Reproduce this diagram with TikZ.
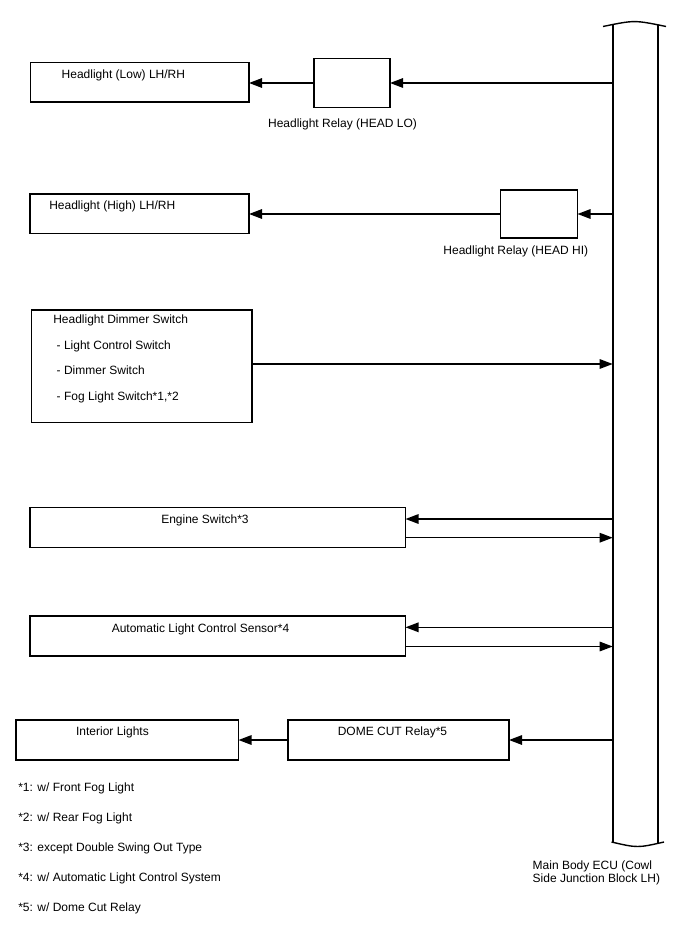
\documentclass[tikz,border=0pt]{standalone}
\usepackage{fontspec}
\setmainfont{Liberation Sans}
\usetikzlibrary{arrows.meta,calc}
\begin{document}
\begin{tikzpicture}[x=1pt,y=-1pt,
  box/.style={draw,line width=1.8pt,inner sep=0pt,outer sep=0pt},
  conn/.style={line width=1.4pt},
  tip/.style={-{Triangle[length=13pt,width=9.5pt]}},
  txt/.style={inner sep=0pt,outer sep=0pt,text height=8.6pt,text depth=0pt,font=\fontsize{12}{13.3}\selectfont},
  eculine/.style={line width=1.7pt}]
\useasboundingbox (0,0) rectangle (688,949);
\fill[white] (0,0) rectangle (688,949);

% Main Body ECU
\node[inner sep=0pt,outer sep=0pt,minimum width=45.6pt,minimum height=818pt] (ecu) at (635.5,434) {};
\draw[eculine] (ecu.north west) -- (ecu.south west);
\draw[eculine] (ecu.north east) -- (ecu.south east);
\draw[line width=1.4pt] (603,26.5) .. controls (634.5,20) .. (666,26.5);
\draw[line width=1.4pt] (611.5,842) .. controls (637.5,848) .. (664,842);

% boxes
\node[box,minimum width=218.5pt,minimum height=39.5pt] (low) at (139.75,82.25) {};
\node[box,minimum width=76pt,minimum height=49pt] (relayLO) at (352,83) {};
\node[box,minimum width=219pt,minimum height=39.5pt] (high) at (139.5,213.75) {};
\node[box,minimum width=77pt,minimum height=48pt] (relayHI) at (539,214) {};
\node[box,minimum width=220.5pt,minimum height=112.5pt] (dimmer) at (141.75,366.25) {};
\node[box,minimum width=375.5pt,minimum height=40pt] (engine) at (217.75,527.5) {};
\node[box,minimum width=375.5pt,minimum height=40pt] (auto) at (217.75,636) {};
\node[box,minimum width=222.5pt,minimum height=40pt] (interior) at (127.25,740) {};
\node[box,minimum width=221pt,minimum height=40pt] (dome) at (398.5,740) {};

% texts
\node[txt,anchor=west] (tlow) at (61.7,74.5) {Headlight (Low) LH/RH};
\node[txt] (lblLO) at (342.5,122.8) {Headlight Relay (HEAD LO)};
\node[txt,anchor=west] (thigh) at (49.3,205.5) {Headlight (High) LH/RH};
\node[txt] (lblHI) at (515.8,250) {Headlight Relay (HEAD HI)};
\node[txt,anchor=west] (td0) at (53.3,318.8) {Headlight Dimmer Switch};
\node[txt,anchor=west] (td1) at (56.7,345.5) {- Light Control Switch};
\node[txt,anchor=west] (td2) at (56.7,370.5) {- Dimmer Switch};
\node[txt,anchor=west] (td3) at (56.7,396.3) {- Fog Light Switch*1,*2};
\node[txt] (tengine) at (205,519) {Engine Switch*3};
\node[txt] (tauto) at (200.5,628.5) {Automatic Light Control Sensor*4};
\node[txt] (tinterior) at (112.5,731) {Interior Lights};
\node[txt] (tdome) at (392.5,731) {DOME CUT Relay*5};

\node[txt,anchor=west] (n1) at (18.3,786.7) {*1: w/ Front Fog Light};
\node[txt,anchor=west] (n2) at (18.3,816.7) {*2: w/ Rear Fog Light};
\node[txt,anchor=west] (n3) at (18.3,846.7) {*3: except Double Swing Out Type};
\node[txt,anchor=west] (n4) at (18.3,876.7) {*4: w/ Automatic Light Control System};
\node[txt,anchor=west] (n5) at (18.3,906.7) {*5: w/ Dome Cut Relay};

\node[txt,anchor=west] (ecuL1) at (532.7,865) {Main Body ECU (Cowl};
\node[txt,anchor=west] (ecuL2) at (532.7,878.3) {Side Junction Block LH)};

% connector end points on box sides
\coordinate (dOut) at ([yshift=2.25pt]dimmer.east);
\coordinate (eIn) at ([yshift=8.5pt]engine.east);
\coordinate (eOut) at ([yshift=-10.2pt]engine.east);
\coordinate (aIn) at ([yshift=8.7pt]auto.east);
\coordinate (aOut) at ([yshift=-10.5pt]auto.east);

% connectors
\draw[conn,tip] (ecu.west |- relayLO.east) -- (relayLO.east);
\draw[conn,tip] (relayLO.west) -- (relayLO.west -| low.east);
\draw[conn,tip] (ecu.west |- relayHI.east) -- (relayHI.east);
\draw[conn,tip] (relayHI.west) -- (relayHI.west -| high.east);
\draw[conn,tip] (dOut) -- (ecu.west |- dOut);
\draw[conn,tip] (ecu.west |- eIn) -- (eIn);
\draw[conn,tip] (eOut) -- (ecu.west |- eOut);
\draw[conn,tip] (ecu.west |- aIn) -- (aIn);
\draw[conn,tip] (aOut) -- (ecu.west |- aOut);
\draw[conn,tip] (ecu.west |- dome.east) -- (dome.east);
\draw[conn,tip] (dome.west) -- (dome.west -| interior.east);
\end{tikzpicture}
\end{document}
